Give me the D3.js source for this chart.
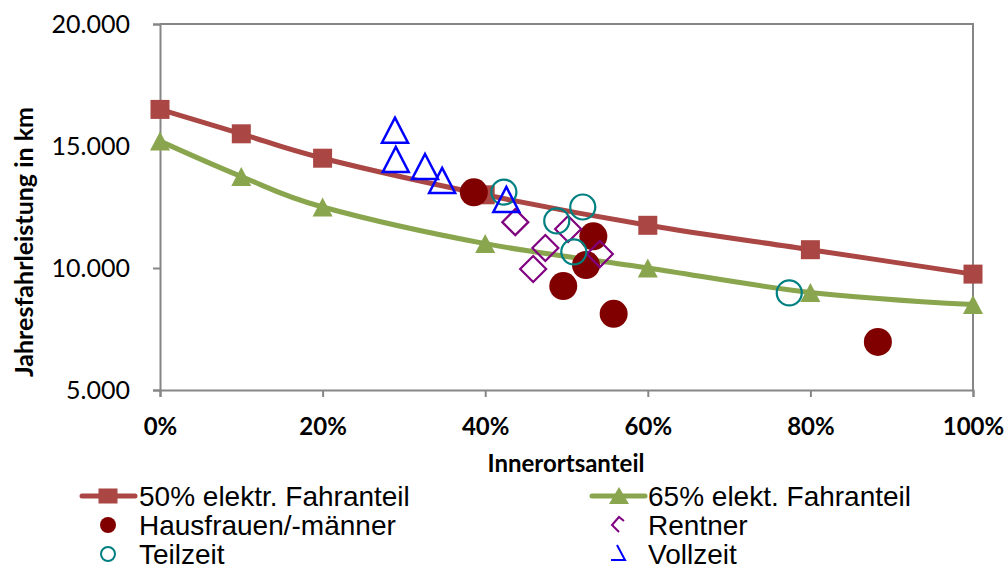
<!DOCTYPE html>
<html><head><meta charset="utf-8">
<script src="https://cdn.jsdelivr.net/npm/d3@7"></script>
<style>body{margin:0;background:#fff}svg{display:block}</style>
</head><body>
<svg id="c" width="1008" height="570"></svg>
<script>
// ---- data ----
const innerortsShares = [0, 10, 20, 40, 60, 80, 100];
const series50 = [16500, 15500, 14500, 13000, 11750, 10750, 9750];
const series65 = [15200, 13750, 12500, 11000, 10000, 9000, 8500];
const hausfrauenX = [38.6, 53.3, 52.4, 49.6, 55.8, 88.3];
const hausfrauenY = [13100, 11300, 10120, 9260, 8120, 6970];
const rentnerX = [43.7, 50.2, 47.4, 54.1, 45.9];
const rentnerY = [11880, 11600, 10820, 10570, 9960];
const teilzeitX = [42.3, 52.0, 48.8, 50.9, 77.4];
const teilzeitY = [13110, 12500, 11930, 10660, 8980];
const vollzeitX = [28.9, 29.0, 32.6, 34.7, 42.6];
const vollzeitY = [15650, 14450, 14160, 13590, 12810];
const xTicks = [0, 20, 40, 60, 80, 100];
const yTicks = [5000, 10000, 15000, 20000];
const legendLabels = ["50% elektr. Fahranteil", "65% elekt. Fahranteil", "Hausfrauen/-männer", "Rentner", "Teilzeit", "Vollzeit"];
const yTitle = "Jahresfahrleistung in km";
const xTitle = "Innerortsanteil";

// ---- setup ----
const svg = d3.select("#c");
const L = 160, R = 973, T = 24, B = 390;
const x = d3.scaleLinear().domain([0, 100]).range([L, R]);
const y = d3.scaleLinear().domain([5000, 20000]).range([B, T]);
const axisCol = "#868686";
const red = "#AA4643", green = "#89A54E";

// plot border (top & right)
svg.append("path").attr("d", `M${L},${T}H${R}V${B}`).attr("fill", "none").attr("stroke", axisCol).attr("stroke-width", 2);

// y axis
const ya = svg.append("g").attr("transform", `translate(${L},0)`)
  .call(d3.axisLeft(y).tickValues(yTicks).tickSize(7).tickPadding(23).tickFormat(v => d3.format(",.0f")(v).replace(",", ".")));
ya.select(".domain").attr("stroke", axisCol).attr("stroke-width", 2);
ya.selectAll(".tick line").attr("stroke", axisCol).attr("stroke-width", 2);
ya.selectAll("text").attr("font-family", "Lato, sans-serif").attr("font-size", 25).attr("fill", "#000");

// x axis
const xa = svg.append("g").attr("transform", `translate(0,${B})`)
  .call(d3.axisBottom(x).tickValues(xTicks).tickSize(7).tickPadding(21).tickFormat(v => v + "%"));
xa.select(".domain").attr("stroke", axisCol).attr("stroke-width", 2);
xa.selectAll(".tick line").attr("stroke", axisCol).attr("stroke-width", 2);
xa.selectAll("text").attr("font-family", "Lato, sans-serif").attr("font-weight", "bold").attr("font-size", 24).attr("fill", "#000");

// titles
svg.append("text").attr("transform", `translate(33,242) rotate(-90)`).attr("text-anchor", "middle")
  .attr("font-family", "Lato, sans-serif").attr("font-weight", "bold").attr("font-size", 25).text(yTitle);
svg.append("text").attr("x", 566).attr("y", 472).attr("text-anchor", "middle")
  .attr("font-family", "Lato, sans-serif").attr("font-weight", "bold").attr("font-size", 24).text(xTitle);

// lines
const line = d3.line().x(d => x(d[0])).y(d => y(d[1])).curve(d3.curveCatmullRom.alpha(0));
const d50 = innerortsShares.map((v, i) => [v, series50[i]]);
const d65 = innerortsShares.map((v, i) => [v, series65[i]]);
svg.append("path").attr("d", line(d50)).attr("fill", "none").attr("stroke", red).attr("stroke-width", 5).attr("stroke-linejoin", "round");
svg.append("path").attr("d", line(d65)).attr("fill", "none").attr("stroke", green).attr("stroke-width", 5).attr("stroke-linejoin", "round");

const sq = 19;
svg.append("g").selectAll("rect").data(d50).join("rect")
  .attr("x", d => x(d[0]) - sq / 2).attr("y", d => y(d[1]) - sq / 2).attr("width", sq).attr("height", sq).attr("fill", red);
const tri = (cx, cy, w, h) => `M${cx},${cy - h / 2}L${cx + w / 2},${cy + h / 2}L${cx - w / 2},${cy + h / 2}Z`;
svg.append("g").selectAll("path").data(d65).join("path")
  .attr("d", d => tri(x(d[0]), y(d[1]), 20, 19)).attr("fill", green);

// scatter
const hf = hausfrauenX.map((v, i) => [v, hausfrauenY[i]]);
const rn = rentnerX.map((v, i) => [v, rentnerY[i]]);
const tz = teilzeitX.map((v, i) => [v, teilzeitY[i]]);
const vz = vollzeitX.map((v, i) => [v, vollzeitY[i]]);
svg.append("g").selectAll("circle").data(hf).join("circle")
  .attr("cx", d => x(d[0])).attr("cy", d => y(d[1])).attr("r", 14).attr("fill", "#800000");
svg.append("g").selectAll("path").data(rn).join("path")
  .attr("d", d => { const cx = x(d[0]), cy = y(d[1]), s = 13; return `M${cx},${cy - s}L${cx + s},${cy}L${cx},${cy + s}L${cx - s},${cy}Z`; })
  .attr("fill", "none").attr("stroke", "#800080").attr("stroke-width", 2.2);
svg.append("g").selectAll("circle").data(tz).join("circle")
  .attr("cx", d => x(d[0])).attr("cy", d => y(d[1])).attr("r", 12.5).attr("fill", "none").attr("stroke", "#008080").attr("stroke-width", 2.2);
svg.append("g").selectAll("path").data(vz).join("path")
  .attr("d", d => tri(x(d[0]), y(d[1]), 26, 25)).attr("fill", "none").attr("stroke", "#0000FF").attr("stroke-width", 2.5);

// legend
const lg = svg.append("g");
const lf = "'Liberation Sans', Arial, sans-serif", lfs = 28;
const col1 = 108, col2 = 619, txt1 = 139, txt2 = 648, r1 = 496, r2 = 525, r3 = 554;
// row1
lg.append("line").attr("x1", 82).attr("x2", 135).attr("y1", r1).attr("y2", r1).attr("stroke", red).attr("stroke-width", 5).attr("stroke-linecap", "round");
lg.append("rect").attr("x", col1 - 9.5).attr("y", r1 - 7.5).attr("width", 19).attr("height", 15).attr("fill", red);
lg.append("line").attr("x1", 592).attr("x2", 645).attr("y1", r1).attr("y2", r1).attr("stroke", green).attr("stroke-width", 5).attr("stroke-linecap", "round");
lg.append("path").attr("d", tri(col2, r1 - 0.5, 20, 17)).attr("fill", green);
// row2
lg.append("circle").attr("cx", col1).attr("cy", r2).attr("r", 8).attr("fill", "#800000");
lg.append("path").attr("d", `M${col2 + 5},${r2 - 4}L${col2},${r2 - 8}L${col2 - 7},${r2}L${col2},${r2 + 7}`).attr("fill", "none").attr("stroke", "#800080").attr("stroke-width", 2);
// row3
lg.append("circle").attr("cx", col1).attr("cy", r3).attr("r", 7).attr("fill", "none").attr("stroke", "#008080").attr("stroke-width", 2);
lg.append("path").attr("d", `M${col2 - 2},${r3 - 9}L${col2 + 6},${r3 + 6}L${col2 - 8},${r3 + 6}`).attr("fill", "none").attr("stroke", "#0000FF").attr("stroke-width", 2);

const lpos = [[txt1, r1], [txt2, r1], [txt1, r2], [txt2, r2], [txt1, r3], [txt2, r3]];
lg.selectAll("text").data(legendLabels).join("text")
  .attr("x", (d, i) => lpos[i][0]).attr("y", (d, i) => lpos[i][1] + 10)
  .attr("font-family", lf).attr("font-size", lfs).attr("fill", "#000").text(d => d);
</script>
</body></html>
